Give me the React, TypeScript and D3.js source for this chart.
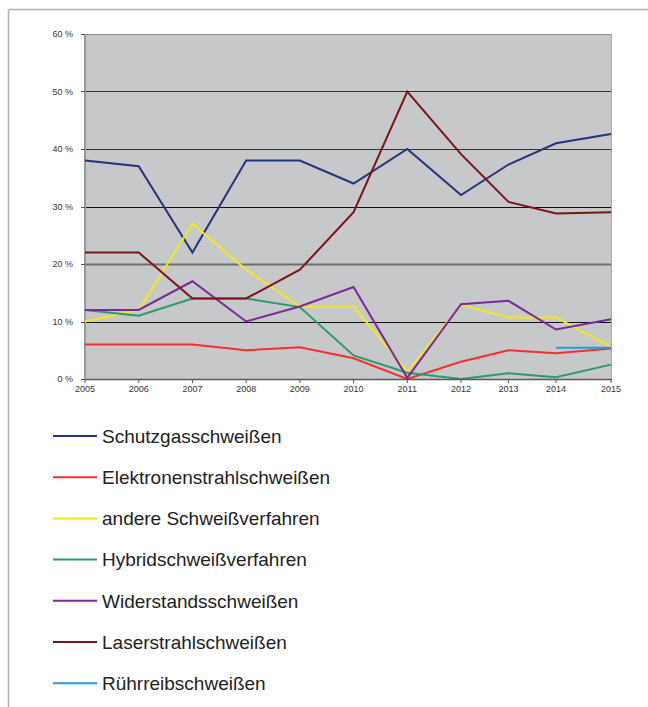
import React from "react";
import * as d3 from "d3";

const years = [2005, 2006, 2007, 2008, 2009, 2010, 2011, 2012, 2013, 2014, 2015];
const yTicks = [0, 10, 20, 30, 40, 50, 60];

const schutzgas = [38, 37, 22, 38, 38, 34, 40, 32, 37.3, 41, 42.6];
const elektronen = [6, 6, 6, 5, 5.5, 3.6, 0, 3, 5, 4.5, 5.3];
const andere = [10, 12, 27, 19, 12.6, 12.6, 1.3, 12.9, 10.7, 10.7, 5.6];
const hybrid = [12, 11, 14, 14, 12.5, 4.1, 1.1, 0, 1, 0.3, 2.5];
const widerstand = [12, 12, 17, 10, 12.6, 16, 0.2, 13, 13.6, 8.6, 10.4];
const laser = [22, 22, 14, 14, 19, 29, 50, 39.1, 30.8, 28.8, 29];
const ruehrreib: (number | null)[] = [null, null, null, null, null, null, null, null, null, 5.45, 5.45];

const seriesNames = [
  "Schutzgasschweißen",
  "Elektronenstrahlschweißen",
  "andere Schweißverfahren",
  "Hybridschweißverfahren",
  "Widerstandsschweißen",
  "Laserstrahlschweißen",
  "Rührreibschweißen",
];
const seriesValues: (number | null)[][] = [schutzgas, elektronen, andere, hybrid, widerstand, laser, ruehrreib];
const seriesColors = ["#25337a", "#fa2d2d", "#f2ea1c", "#2b9a6c", "#7a2a98", "#7a1418", "#1e9ed8"];

export default function App() {
  const W = 648;
  const H = 707;
  const left = 85;
  const right = 611;
  const top = 34;
  const bottom = 379;

  const x = d3.scaleLinear().domain([2005, 2012, 2014, 2015]).range([left, 461, 556, right]);
  const y = d3.scaleLinear().domain([0, 60]).range([bottom, top]);

  const line = d3
    .line<number | null>()
    .defined((d) => d !== null)
    .x((_, i) => x(years[i]))
    .y((d) => y(d as number));

  const gridStyle = (v: number) => {
    if (v === 20) return { stroke: "#6e6e6e", width: 2 };
    if (v === 10 || v === 30) return { stroke: "#111", width: 1 };
    if (v === 60) return { stroke: "#8a8a8a", width: 1 };
    return { stroke: "#333", width: 1 };
  };

  const legendX1 = 53;
  const legendX2 = 97;
  const legendY0 = 436;
  const legendStep = 41.2;

  return (
    <svg
      width={W}
      height={H}
      style={{ position: "absolute", left: 0, top: 0, background: "#fff" }}
      fontFamily="'Liberation Sans', Arial, sans-serif"
    >
      {/* outer frame */}
      <line x1={8.5} y1={9.5} x2={W} y2={9.5} stroke="#b0b0b0" strokeWidth={1.5} />
      <line x1={8.5} y1={9.5} x2={8.5} y2={H} stroke="#b0b0b0" strokeWidth={1.5} />

      {/* plot area */}
      <rect x={left} y={top} width={right - left} height={bottom - top} fill="#c7c8ca" />

      {/* gridlines */}
      {yTicks
        .filter((v) => v > 0)
        .map((v) => {
          const s = gridStyle(v);
          return (
            <line
              key={"g" + v}
              x1={left}
              x2={right}
              y1={Math.round(y(v)) + 0.5}
              y2={Math.round(y(v)) + 0.5}
              stroke={s.stroke}
              strokeWidth={s.width}
            />
          );
        })}

      {/* right border */}
      <line x1={right + 0.5} x2={right + 0.5} y1={top} y2={bottom} stroke="#a8a8a8" strokeWidth={1} />

      {/* y axis */}
      <line x1={left} x2={left} y1={top} y2={bottom + 1} stroke="#9a9a9a" strokeWidth={2} />
      {yTicks.map((v) => (
        <g key={"yt" + v}>
          <line x1={left - 4} x2={left} y1={Math.round(y(v)) + 0.5} y2={Math.round(y(v)) + 0.5} stroke="#555" strokeWidth={1} />
          <text x={left - 12} y={y(v)} dy="0.35em" textAnchor="end" fontSize={9} fill="#333">
            {v} %
          </text>
        </g>
      ))}

      {/* series */}
      {seriesValues.map((vals, i) => (
        <path
          key={"s" + i}
          d={line(vals) || ""}
          fill="none"
          stroke={seriesColors[i]}
          strokeWidth={2}
          strokeLinejoin="miter"
        />
      ))}

      {/* x axis */}
      <line x1={left} x2={right + 1} y1={bottom + 0.5} y2={bottom + 0.5} stroke="#5a5a5a" strokeWidth={1.5} />
      {years.map((yr) => (
        <g key={"xt" + yr}>
          <line x1={x(yr)} x2={x(yr)} y1={bottom} y2={bottom + 4} stroke="#555" strokeWidth={1} />
          <text x={x(yr)} y={bottom + 13} textAnchor="middle" fontSize={9} fill="#333">
            {yr}
          </text>
        </g>
      ))}

      {/* legend */}
      {seriesNames.map((name, i) => {
        const ly = legendY0 + i * legendStep;
        return (
          <g key={"l" + i}>
            <line x1={legendX1} x2={legendX2} y1={ly} y2={ly} stroke={seriesColors[i]} strokeWidth={2} />
            <text x={legendX2 + 5} y={ly} dy="0.36em" fontSize={19} fill="#222">
              {name}
            </text>
          </g>
        );
      })}
    </svg>
  );
}
